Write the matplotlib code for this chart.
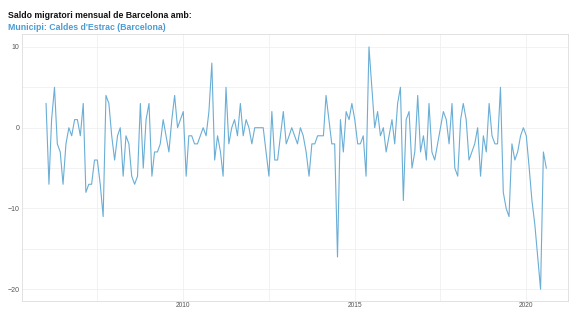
import matplotlib
matplotlib.use("Agg")
import matplotlib.pyplot as plt
import matplotlib.dates as mdates
import numpy as np
import pandas as pd

plt.rcParams['font.family'] = ['Liberation Sans', 'DejaVu Sans']

title = "Saldo migratori mensual de Barcelona amb:"
subtitle = "Municipi: Caldes d'Estrac (Barcelona)"
start_month = "2006-01-01"
values = [3, -7, 1, 5, -2, -3, -7, -2, 0, -1, 1, 1, -1, 3, -8, -7, -7, -4, -4, -7,
          -11, 4, 3, -1, -4, -1, 0, -6, -1, -2, -6, -7, -6, 3, -5, 1, 3, -6, -3, -3,
          -2, 1, -1, -3, 1, 4, 0, 1, 2, -6, -1, -1, -2, -2, -1, 0, -1, 2, 8, -4,
          -1, -3, -6, 5, -2, 0, 1, -1, 3, -1, 1, 0, -2, 0, 0, 0, 0, -3, -6, 2,
          -4, -4, -1, 2, -2, -1, 0, -1, -2, 0, -1, -3, -6, -2, -2, -1, -1, -1, 4, 1,
          -2, -2, -16, 1, -3, 2, 1, 3, 1, -2, -2, -1, -6, 10, 5, 0, 2, -1, 0, -3,
          -1, 1, -2, 3, 5, -9, 1, 2, -5, -3, 4, -3, -1, -4, 3, -3, -4, -2, 0, 2,
          1, -2, 3, -5, -6, 1, 3, 1, -4, -3, -2, 0, -6, -1, -3, 3, -1, -2, -2, 5,
          -8, -10, -11, -2, -4, -3, -1, 0, -1, -5, -9, -12, -16, -20, -3, -5]
y_ticks = [10, 0, -10, -20]
x_tick_years = [2010, 2015, 2020]

dates = pd.date_range(start_month, periods=len(values), freq="MS")

fig = plt.figure(figsize=(5.7, 3.09), dpi=100)
ax = fig.add_axes([22/570, 1-301/309, (568-22)/570, (301-34)/309])
ax.plot(dates, values, color="#6aaed6", linewidth=0.8)

ax.set_ylim(-21.45, 11.6)
ax.set_xlim(pd.Timestamp("2005-04-20"), pd.Timestamp("2021-03-20"))
ax.set_yticks(y_ticks)
ax.set_yticks([5, -5, -15], minor=True)
ax.set_xticks([pd.Timestamp(f"{y}-01-01") for y in x_tick_years])
ax.set_xticks([pd.Timestamp(f"{y}-07-01") for y in [2007, 2012, 2017]], minor=True)
ax.xaxis.set_major_formatter(mdates.DateFormatter("%Y"))
ax.grid(True, which="both", color="#f0f0f0", linewidth=0.6)
ax.set_axisbelow(True)
for s in ax.spines.values():
    s.set_color("#dddddd")
    s.set_linewidth(0.6)
ax.tick_params(axis="both", which="both", length=0, labelsize=5, colors="#555555", pad=2)
ax.tick_params(axis="x", pad=0.4, labelsize=4.8)

fig.text(8/570, 1-16/309, title, fontsize=6.3, fontweight="bold", color="#111111", va="center")
fig.text(8/570, 1-27/309, subtitle, fontsize=6.3, fontweight="bold", color="#4a9bd4", va="center")

fig.savefig("out.png", dpi=100)
